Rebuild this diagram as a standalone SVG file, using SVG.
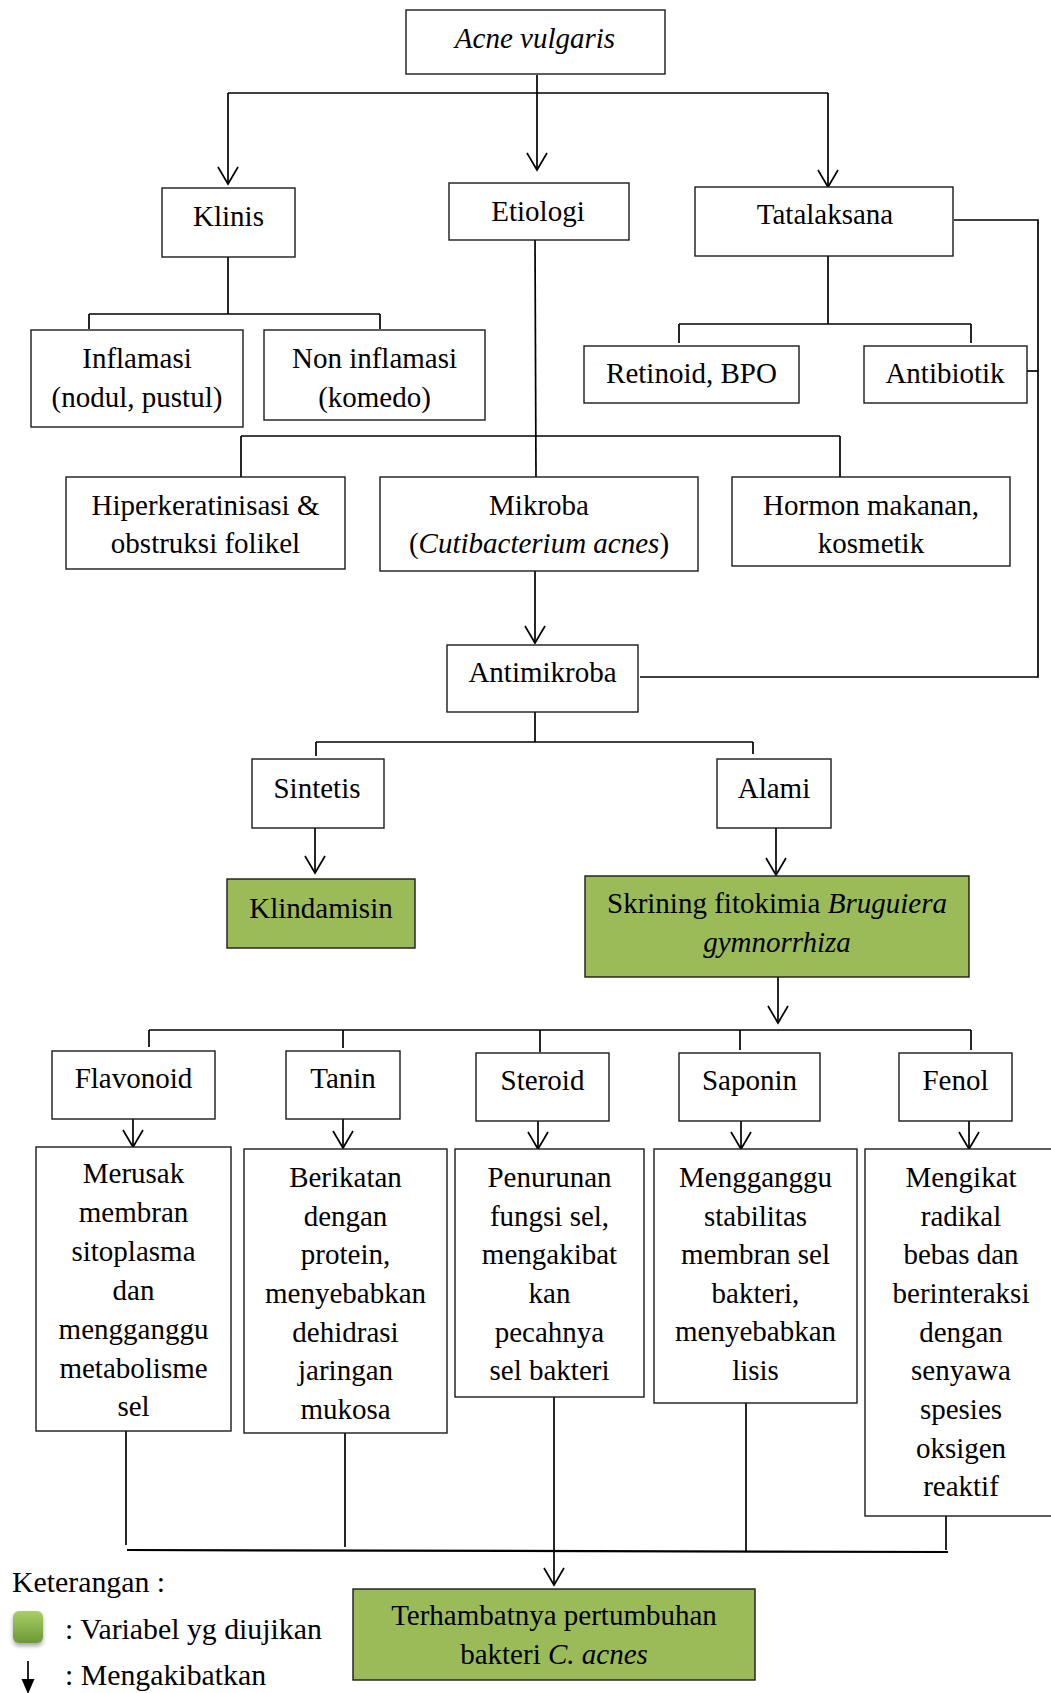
<svg xmlns="http://www.w3.org/2000/svg" width="1051" height="1693" viewBox="0 0 1051 1693">
<style>
.box{fill:#fff;stroke:#1a1a1a;stroke-width:1.4}
.green{fill:#9BBB59;stroke:#1a1a1a;stroke-width:1.4}
.t{font-family:"Liberation Serif","Times New Roman",serif;font-size:29px;fill:#000;text-anchor:middle}
.tl{font-family:"Liberation Serif","Times New Roman",serif;font-size:29.8px;fill:#000}
.i{font-style:italic}
.ln{fill:none;stroke:#000;stroke-width:1.7}
.ar{fill:none;stroke:#000;stroke-width:1.7;marker-end:url(#v)}
</style>
<defs>
<marker id="v" markerUnits="userSpaceOnUse" viewBox="-19 -12 21 24" refX="0" refY="0" markerWidth="21" markerHeight="24" orient="auto">
<path d="M-17,-10 L0,0 L-17,10" fill="none" stroke="#000" stroke-width="1.7"/>
</marker>
<linearGradient id="lg" x1="0" y1="0" x2="0" y2="1">
<stop offset="0" stop-color="#A8CF66"/>
<stop offset="1" stop-color="#6C9936"/>
</linearGradient>
<filter id="sh" x="-50%" y="-50%" width="200%" height="200%">
<feDropShadow dx="0" dy="3" stdDeviation="2" flood-color="#000" flood-opacity="0.35"/>
</filter>
</defs>
<rect width="1051" height="1693" fill="#fff"/>

<g id="connectors">
<line class="ar" x1="537" y1="75" x2="537" y2="170"/>
<line class="ln" x1="228" y1="93" x2="828" y2="93"/>
<line class="ar" x1="228" y1="93" x2="228" y2="184"/>
<line class="ar" x1="828" y1="93" x2="828" y2="187"/>
<line class="ln" x1="228" y1="257" x2="228" y2="314"/>
<line class="ln" x1="89" y1="314" x2="380" y2="314"/>
<line class="ln" x1="89" y1="314" x2="89" y2="329"/>
<line class="ln" x1="380" y1="314" x2="380" y2="329"/>
<line class="ln" x1="828" y1="256" x2="828" y2="324"/>
<line class="ln" x1="679" y1="324" x2="971" y2="324"/>
<line class="ln" x1="679" y1="324" x2="679" y2="343"/>
<line class="ln" x1="971" y1="324" x2="971" y2="343"/>
<polyline class="ln" points="954,220 1038,220 1038,677 640,677"/>
<line class="ln" x1="1027" y1="371" x2="1038" y2="371"/>
<line class="ln" x1="535" y1="240" x2="536" y2="477"/>
<line class="ln" x1="241" y1="436" x2="840" y2="436"/>
<line class="ln" x1="241" y1="436" x2="241" y2="477"/>
<line class="ln" x1="840" y1="436" x2="840" y2="477"/>
<line class="ar" x1="535" y1="571" x2="535" y2="643"/>
<line class="ln" x1="535" y1="712" x2="535" y2="742"/>
<line class="ln" x1="316" y1="742" x2="753" y2="742"/>
<line class="ln" x1="316" y1="742" x2="316" y2="756"/>
<line class="ln" x1="753" y1="742" x2="753" y2="754"/>
<line class="ar" x1="315" y1="828" x2="315" y2="873"/>
<line class="ar" x1="776" y1="828" x2="776" y2="875"/>
<line class="ar" x1="778" y1="977" x2="778" y2="1023"/>
<line class="ln" x1="149" y1="1030" x2="971" y2="1030"/>
<line class="ln" x1="149" y1="1030" x2="149" y2="1047"/>
<line class="ln" x1="343" y1="1030" x2="343" y2="1048"/>
<line class="ln" x1="540" y1="1030" x2="540" y2="1052"/>
<line class="ln" x1="740" y1="1030" x2="740" y2="1050"/>
<line class="ln" x1="971" y1="1030" x2="971" y2="1050"/>
<line class="ar" x1="133" y1="1119" x2="133" y2="1147"/>
<line class="ar" x1="343" y1="1119" x2="343" y2="1148"/>
<line class="ar" x1="538" y1="1121" x2="538" y2="1149"/>
<line class="ar" x1="741" y1="1121" x2="741" y2="1149"/>
<line class="ar" x1="969" y1="1121" x2="969" y2="1149"/>
<line class="ln" x1="126" y1="1431" x2="126" y2="1545"/>
<line class="ln" x1="345" y1="1433" x2="345" y2="1547"/>
<line class="ln" x1="746" y1="1403" x2="746" y2="1551"/>
<line class="ln" x1="946" y1="1516" x2="946" y2="1550"/>
<line class="ln" x1="127" y1="1550" x2="948" y2="1552" style="stroke-width:2.2"/>
<line class="ar" x1="554" y1="1397" x2="554" y2="1585"/>
</g>

<g id="n-acne"><rect class="box" x="406" y="10" width="259" height="64"/><text class="t i" x="535" y="48">Acne vulgaris</text></g>
<g id="n-klinis"><rect class="box" x="162" y="188" width="133" height="69"/><text class="t" x="228.5" y="226">Klinis</text></g>
<g id="n-etiologi"><rect class="box" x="449" y="183" width="180" height="57"/><text class="t" x="538" y="221">Etiologi</text></g>
<g id="n-tatalaksana"><rect class="box" x="695" y="187" width="258" height="69"/><text class="t" x="825" y="224">Tatalaksana</text></g>
<g id="n-inflamasi"><rect class="box" x="31" y="330" width="212" height="97"/><text class="t" x="137" y="368">Inflamasi</text><text class="t" x="137" y="407">(nodul, pustul)</text></g>
<g id="n-noninflamasi"><rect class="box" x="264" y="330" width="221" height="90"/><text class="t" x="374.5" y="368">Non inflamasi</text><text class="t" x="374.5" y="407">(komedo)</text></g>
<g id="n-retinoid"><rect class="box" x="584" y="346" width="215" height="57"/><text class="t" x="691.5" y="383">Retinoid, BPO</text></g>
<g id="n-antibiotik"><rect class="box" x="864" y="346" width="163" height="57"/><text class="t" x="945" y="383">Antibiotik</text></g>
<g id="n-hiper"><rect class="box" x="66" y="477" width="279" height="92"/><text class="t" x="205.5" y="515">Hiperkeratinisasi &amp;</text><text class="t" x="205.5" y="553">obstruksi folikel</text></g>
<g id="n-mikroba"><rect class="box" x="380" y="477" width="318" height="94"/><text class="t" x="539" y="515">Mikroba</text><text class="t" x="539" y="553">(<tspan class="i">Cutibacterium acnes</tspan>)</text></g>
<g id="n-hormon"><rect class="box" x="732" y="477" width="278" height="89"/><text class="t" x="871" y="515">Hormon makanan,</text><text class="t" x="871" y="553">kosmetik</text></g>
<g id="n-antimikroba"><rect class="box" x="447" y="645" width="191" height="67"/><text class="t" x="542.5" y="682">Antimikroba</text></g>
<g id="n-sintetis"><rect class="box" x="252" y="759" width="132" height="69"/><text class="t" x="317" y="798">Sintetis</text></g>
<g id="n-alami"><rect class="box" x="717" y="759" width="114" height="69"/><text class="t" x="774" y="798">Alami</text></g>
<g id="n-klindamisin"><rect class="green" x="227" y="879" width="188" height="69"/><text class="t" x="321" y="918">Klindamisin</text></g>
<g id="n-skrining"><rect class="green" x="585" y="876" width="384" height="101"/><text class="t" x="777" y="913">Skrining fitokimia <tspan class="i">Bruguiera</tspan></text><text class="t i" x="777" y="952">gymnorrhiza</text></g>
<g id="n-flavonoid"><rect class="box" x="52" y="1051" width="163" height="68"/><text class="t" x="133.5" y="1088">Flavonoid</text></g>
<g id="n-tanin"><rect class="box" x="286" y="1051" width="114" height="68"/><text class="t" x="343" y="1088">Tanin</text></g>
<g id="n-steroid"><rect class="box" x="476" y="1053" width="133" height="68"/><text class="t" x="542.5" y="1090">Steroid</text></g>
<g id="n-saponin"><rect class="box" x="679" y="1053" width="141" height="68"/><text class="t" x="749.5" y="1090">Saponin</text></g>
<g id="n-fenol"><rect class="box" x="899" y="1053" width="113" height="68"/><text class="t" x="955.5" y="1090">Fenol</text></g>
<g id="n-merusak"><rect class="box" x="36" y="1147" width="195" height="284"/>
<text class="t" x="133.5"><tspan x="133.5" y="1183">Merusak</tspan><tspan x="133.5" y="1222">membran</tspan><tspan x="133.5" y="1261">sitoplasma</tspan><tspan x="133.5" y="1300">dan</tspan><tspan x="133.5" y="1339">mengganggu</tspan><tspan x="133.5" y="1378">metabolisme</tspan><tspan x="133.5" y="1416">sel</tspan></text></g>
<g id="n-berikatan"><rect class="box" x="244" y="1149" width="203" height="284"/>
<text class="t" x="345.5"><tspan x="345.5" y="1187">Berikatan</tspan><tspan x="345.5" y="1226">dengan</tspan><tspan x="345.5" y="1264">protein,</tspan><tspan x="345.5" y="1303">menyebabkan</tspan><tspan x="345.5" y="1342">dehidrasi</tspan><tspan x="345.5" y="1380">jaringan</tspan><tspan x="345.5" y="1419">mukosa</tspan></text></g>
<g id="n-penurunan"><rect class="box" x="455" y="1149" width="189" height="248"/>
<text class="t" x="549.5"><tspan x="549.5" y="1187">Penurunan</tspan><tspan x="549.5" y="1226">fungsi sel,</tspan><tspan x="549.5" y="1264">mengakibat</tspan><tspan x="549.5" y="1303">kan</tspan><tspan x="549.5" y="1342">pecahnya</tspan><tspan x="549.5" y="1380">sel bakteri</tspan></text></g>
<g id="n-mengganggu"><rect class="box" x="654" y="1149" width="203" height="254"/>
<text class="t" x="755.5"><tspan x="755.5" y="1187">Mengganggu</tspan><tspan x="755.5" y="1226">stabilitas</tspan><tspan x="755.5" y="1264">membran sel</tspan><tspan x="755.5" y="1303">bakteri,</tspan><tspan x="755.5" y="1341">menyebabkan</tspan><tspan x="755.5" y="1380">lisis</tspan></text></g>
<g id="n-mengikat"><rect class="box" x="865" y="1149" width="192" height="367"/>
<text class="t" x="961"><tspan x="961" y="1187">Mengikat</tspan><tspan x="961" y="1226">radikal</tspan><tspan x="961" y="1264">bebas dan</tspan><tspan x="961" y="1303">berinteraksi</tspan><tspan x="961" y="1342">dengan</tspan><tspan x="961" y="1380">senyawa</tspan><tspan x="961" y="1419">spesies</tspan><tspan x="961" y="1458">oksigen</tspan><tspan x="961" y="1496">reaktif</tspan></text></g>
<g id="n-terhambat"><rect class="green" x="353" y="1589" width="402" height="91"/><text class="t" x="554" y="1625">Terhambatnya pertumbuhan</text><text class="t" x="554" y="1664">bakteri <tspan class="i">C. acnes</tspan></text></g>

<g id="legend">
<text class="tl" x="12" y="1592">Keterangan :</text>
<rect x="13" y="1611" width="30" height="32" rx="6" ry="6" fill="url(#lg)" filter="url(#sh)"/>
<text class="tl" x="65" y="1639">: Variabel yg diujikan</text>
<line x1="28" y1="1661" x2="28" y2="1682" stroke="#000" stroke-width="1.7"/>
<polygon points="21.5,1679 34.5,1679 28,1694" fill="#000"/>
<text class="tl" x="65" y="1685">: Mengakibatkan</text>
</g>
</svg>
